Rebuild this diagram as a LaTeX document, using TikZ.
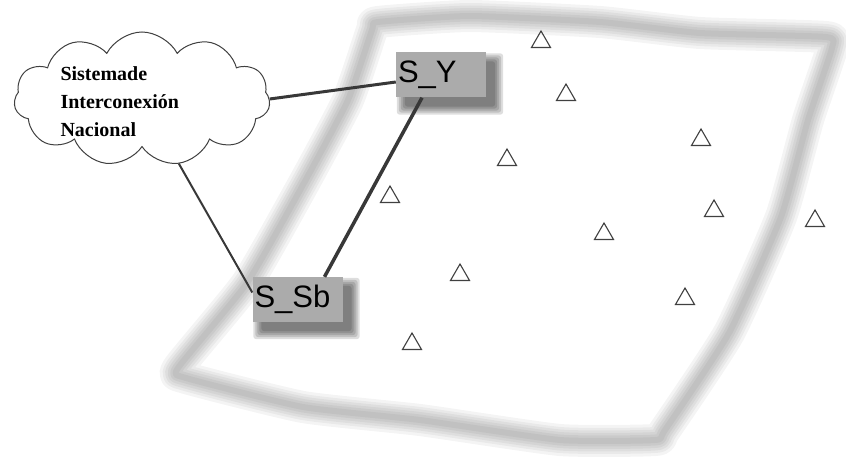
\documentclass[tikz,border=0pt]{standalone}
\usepackage{fontspec}
\setmainfont{Liberation Serif}
\setsansfont{Liberation Sans}
\usetikzlibrary{shapes.symbols,shapes.geometric,backgrounds}

\begin{document}
\begin{tikzpicture}[x=1pt,y=-1pt,semithick]
  \tikzstyle{station}=[regular polygon,regular polygon sides=3,draw=black!75,
                       line width=1.1pt,minimum size=22pt,inner sep=0pt]
  \tikzstyle{sub}=[fill=black!33,text=black,font=\sffamily\fontsize{31}{31}\selectfont,
                   text width=86pt,align=left,inner xsep=2pt,minimum height=45pt]
  \tikzstyle{link}=[draw=black!78,line width=3pt]

  \useasboundingbox (0,0) rectangle (846,470);
  \begin{pgfonlayer}{background}
    \fill[white] (0,0) rectangle (846,470);
  \end{pgfonlayer}

  % soft edged boundary of the zone
  \foreach \w in {32,26,21,16,11,6}
    \draw[black,opacity=0.045,line width=\w pt,line join=round]
      plot[smooth cycle,tension=0.3] coordinates {(378,22) (470,16) (600,22) (700,33)
        (826,37) (832,48) (808,120) (781,217) (729,333) (665,430) (655,440)
        (560,440) (420,420) (303,407) (186,378) (178,368) (247,283) (304,183)
        (348,100) (372,30)};

  % national grid
  \node[cloud,cloud puffs=11,cloud puff arc=125,aspect=1.9,draw=black!75,line width=1pt,
        minimum width=256pt,minimum height=134pt,inner sep=0pt] (sin) at (142,99) {};
  \node[anchor=west,align=left,font=\bfseries\fontsize{20}{28}\selectfont]
        (sintxt) at (57,102) {Sistemade\\Interconexión\\Nacional};

  % substations
  \node[sub] (sy)  at (441,75)    {S\_Y};
  \node[sub] (ssb) at (297.5,299.5) {S\_Sb};

  % their soft shadows
  \begin{pgfonlayer}{background}
    \foreach \b in {sy,ssb}
      \foreach \e in {0,2,4,6,8}
        \fill[black,opacity=0.13,rounded corners=3pt]
          ([xshift={(9-\e)*1pt},yshift={(-9-\e)*1pt}]\b.south west) rectangle
          ([xshift={(9+\e)*1pt},yshift={(-9+\e)*1pt}]\b.north east);
  \end{pgfonlayer}

  % stations in the zone
  \foreach \n/\x/\y in {1/541/42,2/566/95,3/701/140,4/507/160,5/390/197,6/714/211,
                        7/815/221,8/604/234,9/460/275,10/685/299,11/412/344}
    \node[station] (t\n) at (\x,\y) {};

  \path[link] (sin.east) -- ([yshift=-7pt]sy.west);
  \path[link,line width=3.5pt] ([xshift=-19pt]sy.south) -- ([xshift=27pt]ssb.north);
  \path[link,line width=2pt] (sin) -- ([yshift=7pt]ssb.west);
\end{tikzpicture}
\end{document}
